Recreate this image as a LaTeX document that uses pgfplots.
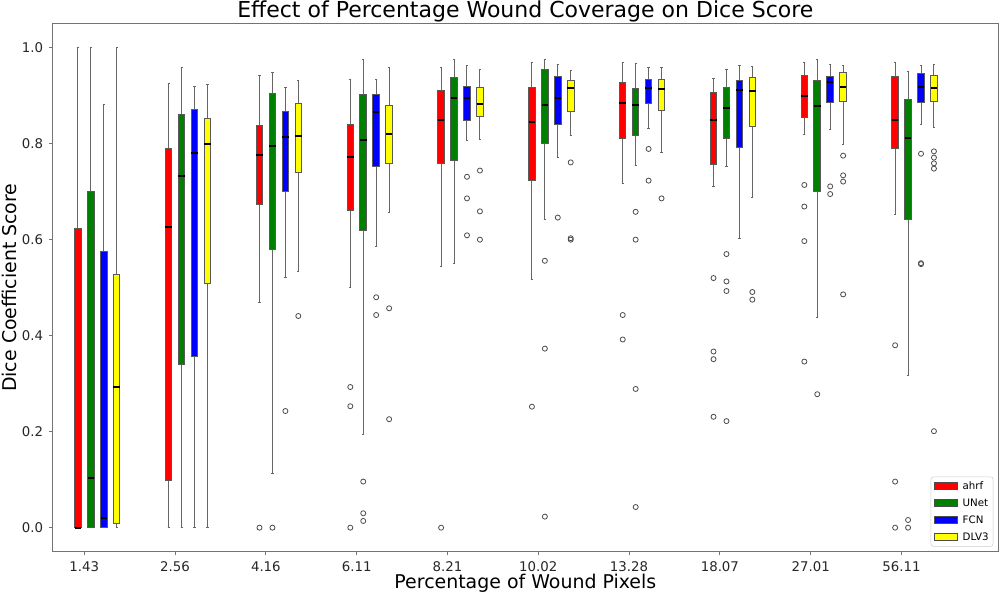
\documentclass[border=0pt]{standalone}
\usepackage{pgfplots}
\pgfplotsset{compat=1.18}
\usepgfplotslibrary{statistics}
\usepackage{fontspec}
\setmainfont{DejaVu Sans}
\definecolor{cR}{RGB}{255,0,0}
\definecolor{cG}{RGB}{0,128,0}
\definecolor{cB}{RGB}{0,0,255}
\definecolor{cY}{RGB}{255,255,0}
% #1 position, #2 colour, #3 lower whisker, #4 lower quartile, #5 median, #6 upper quartile, #7 upper whisker, #8 outliers
\newcommand{\bx}[8]{%
\addplot[forget plot, fill=#2, draw=black!65, line width=0.75pt,
  mark=o, mark size=1.9pt, mark options={draw=black!70, fill=none, line width=0.6pt, solid},
  boxplot/draw direction=y,
  boxplot prepared={draw position=#1, lower whisker=#3, lower quartile=#4, median=#5,
    upper quartile=#6, upper whisker=#7, box extend=0.072, whisker extend=0.025}]
  coordinates {#8};}
\begin{document}
\begin{tikzpicture}
\begin{axis}[
  at={(0,0)}, anchor=south west,
  scale only axis, width=709pt, height=396pt,
  xmin=-0.348, xmax=10.063, ymin=-0.05, ymax=1.05,
  axis line style={draw=black!55, line width=0.75pt},
  tick align=outside, tick style={draw=black!55, line width=0.75pt},
  major tick length=2.7pt,
  xtick={0,1,2,3,4,5,6,7,8,9},
  xticklabels={1.43,2.56,4.16,6.11,8.21,10.02,13.28,18.07,27.01,56.11},
  ytick={0,0.2,0.4,0.6,0.8,1.0},
  yticklabels={0.0,0.2,0.4,0.6,0.8,1.0},
  xtick pos=bottom, ytick pos=left,
  ticklabel style={font=\fontsize{10}{12}\selectfont, text=black!85},
  xticklabel style={anchor=base, yshift=-12.2pt, inner sep=0pt},
  yticklabel style={anchor=east, xshift=-1pt},
  every axis title shift=0pt,
  title={Effect of Percentage Wound Coverage on Dice Score},
  title style={at={(0.5,1)}, anchor=base, yshift=4.3pt, font=\fontsize{16.5}{19}\selectfont},
  xlabel={Percentage of Wound Pixels},
  xlabel style={at={(axis description cs:0.5,-0.0697)}, anchor=base, inner sep=0pt, font=\fontsize{14.2}{17}\selectfont},
  ylabel={Dice Coefficient Score},
  ylabel style={at={(axis description cs:-0.0381,0.5)}, anchor=base, font=\fontsize{14.2}{17}\selectfont},
  boxplot/every whisker/.style={draw=black!60, line width=0.75pt},
  boxplot/every median/.style={draw=black, line width=1.5pt},
  legend cell align=left,
  legend style={at={(1,0)}, anchor=south east, xshift=-3.5pt, yshift=3.75pt,
    draw=black!20, rounded corners=2pt, fill=white,
    font=\fontsize{7.7}{9}\selectfont, row sep=5pt, column sep=3pt,
    inner xsep=2.25pt, inner ysep=3pt,
    nodes={text height=5.6pt, text depth=0.2pt, inner sep=1pt}},
  legend image code/.code={\draw[#1, draw=black!70, line width=0.6pt, sharp corners] (0pt,-2.6pt) rectangle (17pt,2.6pt);},
]
\addlegendimage{fill=cR}\addlegendentry{ahrf}
\addlegendimage{fill=cG}\addlegendentry{UNet}
\addlegendimage{fill=cB}\addlegendentry{FCN}
\addlegendimage{fill=cY}\addlegendentry{DLV3}
% 1.43
\bx{-0.07}{cR}{0}{0}{0}{0.623}{1.0}{}
\bx{0.0725}{cG}{0}{0}{0.103}{0.701}{1.0}{}
\bx{0.215}{cB}{0}{0}{0.020}{0.575}{0.882}{}
\bx{0.3575}{cY}{0}{0.009}{0.294}{0.528}{1.0}{}
% 2.56
\bx{0.93}{cR}{0}{0.099}{0.627}{0.789}{0.925}{}
\bx{1.0725}{cG}{0}{0.339}{0.732}{0.861}{0.958}{}
\bx{1.215}{cB}{0}{0.357}{0.780}{0.872}{0.919}{}
\bx{1.3575}{cY}{0}{0.508}{0.800}{0.852}{0.923}{}
% 4.16
\bx{1.93}{cR}{0.469}{0.674}{0.777}{0.837}{0.942}{(0,0)}
\bx{2.0725}{cG}{0.113}{0.579}{0.796}{0.904}{0.948}{(0,0)}
\bx{2.215}{cB}{0.521}{0.701}{0.813}{0.866}{0.917}{(0,0.243)}
\bx{2.3575}{cY}{0.533}{0.740}{0.816}{0.884}{0.932}{(0,0.441)}
% 6.11
\bx{2.93}{cR}{0.500}{0.660}{0.772}{0.839}{0.933}{(0,0.293) (0,0.253) (0,0)}
\bx{3.0725}{cG}{0.194}{0.619}{0.807}{0.902}{0.975}{(0,0.096) (0,0.030) (0,0.014)}
\bx{3.215}{cB}{0.585}{0.753}{0.867}{0.902}{0.934}{(0,0.480) (0,0.443)}
\bx{3.3575}{cY}{0.657}{0.759}{0.820}{0.879}{0.958}{(0,0.457) (0,0.226)}
% 8.21
\bx{3.93}{cR}{0.545}{0.759}{0.849}{0.911}{0.958}{(0,0)}
\bx{4.0725}{cG}{0.551}{0.764}{0.895}{0.937}{0.975}{}
\bx{4.215}{cB}{0.806}{0.848}{0.895}{0.919}{0.963}{(0,0.731) (0,0.686) (0,0.609)}
\bx{4.3575}{cY}{0.808}{0.857}{0.882}{0.917}{0.954}{(0,0.744) (0,0.659) (0,0.600)}
% 10.02
\bx{4.93}{cR}{0.518}{0.723}{0.846}{0.917}{0.970}{(0,0.252)}
\bx{5.0725}{cG}{0.642}{0.800}{0.880}{0.955}{0.975}{(0,0.556) (0,0.373) (0,0.023)}
\bx{5.215}{cB}{0.771}{0.839}{0.895}{0.939}{0.964}{(0,0.646)}
\bx{5.3575}{cY}{0.818}{0.868}{0.916}{0.931}{0.952}{(0,0.761) (0,0.603) (0,0.600)}
% 13.28
\bx{5.93}{cR}{0.718}{0.810}{0.885}{0.927}{0.969}{(0,0.443) (0,0.392)}
\bx{6.0725}{cG}{0.755}{0.817}{0.881}{0.915}{0.967}{(0,0.658) (0,0.600) (0,0.289) (0,0.043)}
\bx{6.215}{cB}{0.832}{0.883}{0.915}{0.934}{0.958}{(0,0.789) (0,0.723)}
\bx{6.3575}{cY}{0.782}{0.870}{0.913}{0.934}{0.958}{(0,0.686)}
% 18.07
\bx{6.93}{cR}{0.711}{0.757}{0.850}{0.907}{0.936}{(0,0.520) (0,0.367) (0,0.351) (0,0.231)}
\bx{7.0725}{cG}{0.753}{0.811}{0.874}{0.917}{0.954}{(0,0.570) (0,0.513) (0,0.493) (0,0.222)}
\bx{7.215}{cB}{0.602}{0.791}{0.911}{0.931}{0.963}{}
\bx{7.3575}{cY}{0.687}{0.836}{0.909}{0.937}{0.960}{(0,0.491) (0,0.475)}
% 27.01
\bx{7.93}{cR}{0.820}{0.854}{0.900}{0.941}{0.970}{(0,0.714) (0,0.669) (0,0.597) (0,0.346)}
\bx{8.0725}{cG}{0.438}{0.701}{0.879}{0.931}{0.975}{(0,0.278)}
\bx{8.215}{cB}{0.830}{0.886}{0.928}{0.940}{0.965}{(0,0.711) (0,0.695)}
\bx{8.3575}{cY}{0.798}{0.888}{0.919}{0.949}{0.963}{(0,0.775) (0,0.734) (0,0.721) (0,0.486)}
% 56.11
\bx{8.93}{cR}{0.652}{0.789}{0.850}{0.940}{0.969}{(0,0.380) (0,0.096) (0,0)}
\bx{9.0725}{cG}{0.316}{0.642}{0.811}{0.893}{0.951}{(0,0.016) (0,0)}
\bx{9.215}{cB}{0.839}{0.886}{0.918}{0.946}{0.963}{(0,0.779) (0,0.551) (0,0.549)}
\bx{9.3575}{cY}{0.834}{0.888}{0.915}{0.941}{0.965}{(0,0.784) (0,0.771) (0,0.759) (0,0.748) (0,0.201)}
\end{axis}
\pgfresetboundingbox
\path (-39.5pt,-31pt) rectangle (710.5pt,413.75pt);
\end{tikzpicture}
\end{document}
